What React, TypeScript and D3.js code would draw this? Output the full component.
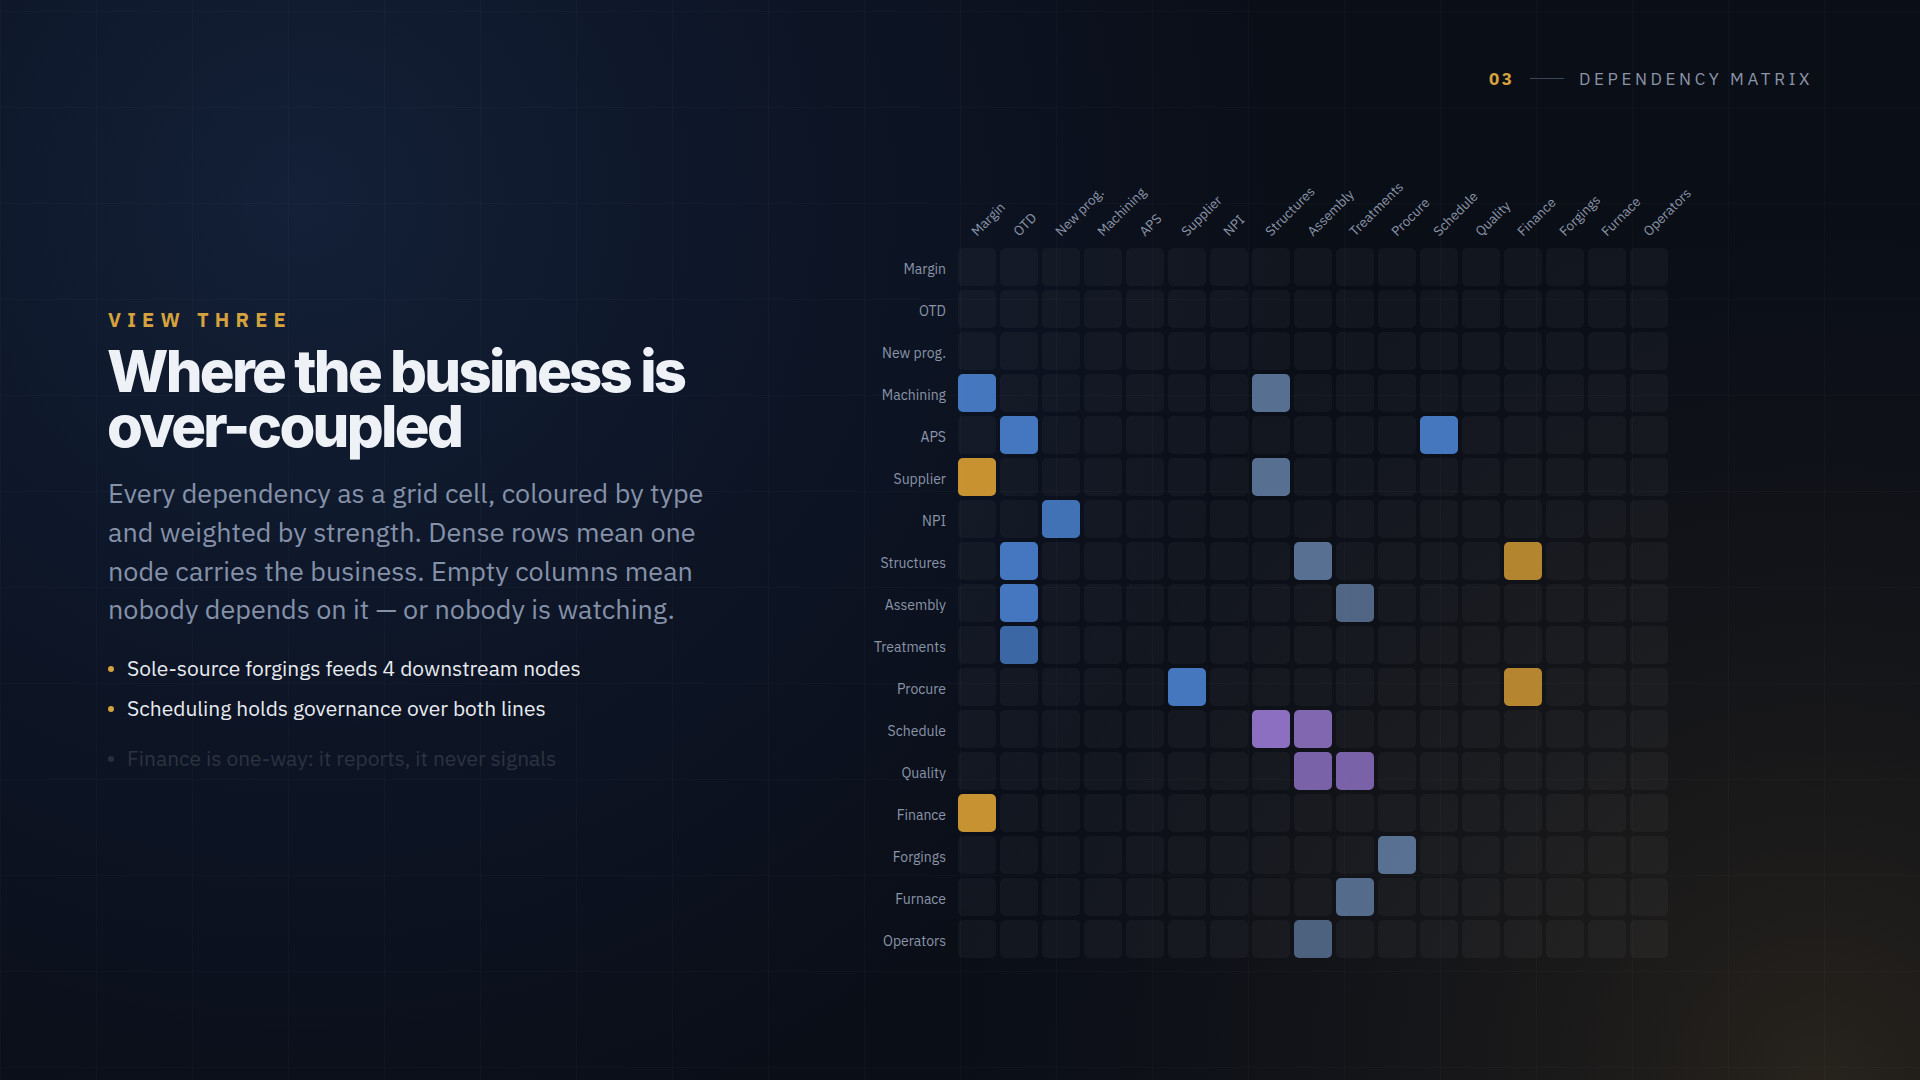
import React from "react";
import * as d3 from "d3";

const nodes = [
  "Margin", "OTD", "New prog.", "Machining", "APS", "Supplier", "NPI",
  "Structures", "Assembly", "Treatments", "Procure", "Schedule", "Quality",
  "Finance", "Forgings", "Furnace", "Operators",
];

// dependency links: source row -> target column
const linkSources = [
  "Machining", "Machining", "APS", "APS", "Supplier", "Supplier", "NPI",
  "Structures", "Structures", "Structures", "Assembly", "Assembly", "Treatments",
  "Procure", "Procure", "Schedule", "Schedule", "Quality", "Quality",
  "Finance", "Forgings", "Furnace", "Operators",
];
const linkTargets = [
  "Margin", "Structures", "OTD", "Schedule", "Margin", "Structures", "New prog.",
  "OTD", "Assembly", "Finance", "OTD", "Treatments", "OTD",
  "Supplier", "Finance", "Structures", "Assembly", "Assembly", "Treatments",
  "Margin", "Procure", "Treatments", "Assembly",
];
const linkTypes = [
  "signal", "material", "signal", "signal", "finance", "material", "signal",
  "signal", "material", "finance", "signal", "material", "signal",
  "signal", "finance", "governance", "governance", "governance", "governance",
  "finance", "material", "material", "material",
];
const linkStrengths = [
  0.9, 0.85, 0.9, 0.9, 0.9, 0.85, 0.85,
  0.9, 0.85, 0.8, 0.9, 0.75, 0.75,
  0.9, 0.8, 0.95, 0.85, 0.8, 0.8,
  0.9, 0.85, 0.8, 0.7,
];

const typeNames = ["signal", "finance", "governance", "material"];
const typeColors = ["#4a82d0", "#dca033", "#9474ca", "#6480a6"];

const bodyLines = [
  "Every dependency as a grid cell, coloured by type",
  "and weighted by strength. Dense rows mean one",
  "node carries the business. Empty columns mean",
  "nobody depends on it \u2014 or nobody is watching.",
];
const bullets = [
  "Sole-source forgings feeds 4 downstream nodes",
  "Scheduling holds governance over both lines",
  "Finance is one-way: it reports, it never signals",
];
const bulletActive = [true, true, false];

const W = 1920;
const H = 1080;
const PLEX = "'IBM Plex Sans', 'Open Sans', 'Noto Sans', sans-serif";

export default function App() {
  const x = d3.scaleBand<string>().domain(nodes).range([958, 1668]).paddingInner(4 / 42).paddingOuter(0);
  const y = d3.scaleBand<string>().domain(nodes).range([248, 958]).paddingInner(4 / 42).paddingOuter(0);
  const color = d3.scaleOrdinal<string, string>().domain(typeNames).range(typeColors);
  const bw = x.bandwidth();

  const links = linkSources.map((s, i) => ({
    s,
    t: linkTargets[i],
    type: linkTypes[i],
    w: linkStrengths[i],
  }));

  const gridXs = d3.range(0, W + 1, 96);
  const gridYs = d3.range(11, H + 1, 96);

  return (
    <div style={{ position: "fixed", left: 0, top: 0, width: W, height: H, overflow: "hidden" }}>
      <svg width={W} height={H} viewBox={`0 0 ${W} ${H}`} style={{ display: "block" }}>
        <defs>
          <radialGradient id="glowTL" cx="300" cy="200" r="1000" gradientUnits="userSpaceOnUse">
            <stop offset="0" stopColor="#132037" stopOpacity="1" />
            <stop offset="0.5" stopColor="#0d1526" stopOpacity="1" />
            <stop offset="1" stopColor="#0a0e17" stopOpacity="1" />
          </radialGradient>
          <radialGradient id="glowBR" cx="1820" cy="1080" r="900" gradientUnits="userSpaceOnUse">
            <stop offset="0" stopColor="#2c261d" stopOpacity="0.85" />
            <stop offset="0.45" stopColor="#221f1b" stopOpacity="0.45" />
            <stop offset="1" stopColor="#16171a" stopOpacity="0" />
          </radialGradient>
        </defs>
        <rect x={0} y={0} width={W} height={H} fill="#0a0e17" />
        <rect x={0} y={0} width={W} height={H} fill="url(#glowTL)" />
        <rect x={0} y={0} width={W} height={H} fill="url(#glowBR)" />
        <g stroke="#ffffff" strokeOpacity={0.022} strokeWidth={1}>
          {gridXs.map((gx) => (
            <line key={"gx" + gx} x1={gx + 0.5} x2={gx + 0.5} y1={0} y2={H} />
          ))}
          {gridYs.map((gy) => (
            <line key={"gy" + gy} x1={0} x2={W} y1={gy + 0.5} y2={gy + 0.5} />
          ))}
        </g>

        {/* header top-right */}
        <text x={1489} y={85} fill="#d6a23e" fontFamily={PLEX} fontWeight={700} fontSize={17} letterSpacing={2.5}>
          03
        </text>
        <line x1={1530} x2={1564} y1={78.5} y2={78.5} stroke="#3a4658" strokeWidth={1} />
        <text x={1579} y={85} fill="#8a95a8" fontFamily={PLEX} fontWeight={400} fontSize={17} letterSpacing={3.6}>
          DEPENDENCY MATRIX
        </text>

        {/* left text */}
        <text x={108} y={327} fill="#d6a23e" fontFamily={PLEX} fontWeight={700} fontSize={20} letterSpacing={6.2}>
          VIEW THREE
        </text>
        <text fill="#eef1f6" fontFamily="Inter, 'Noto Sans', sans-serif" fontWeight={800} fontSize={58} letterSpacing={-2.7}>
          <tspan x={107} y={392}>Where the business is</tspan>
          <tspan x={107} y={447}>over-coupled</tspan>
        </text>
        <g fill="#8591a8" fontFamily={PLEX} fontWeight={400} fontSize={27}>
          {bodyLines.map((l, i) => (
            <text key={i} x={108} y={503 + i * 38.8}>
              {l}
            </text>
          ))}
        </g>
        <g fontFamily={PLEX} fontWeight={400} fontSize={21}>
          {bullets.map((b, i) => {
            const by = [676, 716, 766][i];
            return (
              <g key={i}>
                <circle cx={111} cy={by - 7} r={3} fill={bulletActive[i] ? "#d6a23e" : "#2a303b"} />
                <text x={127} y={by} fill={bulletActive[i] ? "#e8ebf0" : "#2c3340"}>
                  {b}
                </text>
              </g>
            );
          })}
        </g>

        {/* matrix */}
        <g>
          {nodes.map((r) =>
            nodes.map((c) => (
              <rect
                key={r + "|" + c}
                x={x(c)}
                y={y(r)}
                width={bw}
                height={y.bandwidth()}
                rx={5}
                fill="#ffffff"
                fillOpacity={0.035}
              />
            ))
          )}
          {links.map((l, i) => (
            <rect
              key={"l" + i}
              x={x(l.t)}
              y={y(l.s)}
              width={bw}
              height={y.bandwidth()}
              rx={5}
              fill={color(l.type)}
              fillOpacity={l.w}
            />
          ))}
        </g>
        <g fontFamily={PLEX} fontSize={14} fill="#8b95a9">
          {nodes.map((r) => (
            <text key={"rl" + r} x={946} y={(y(r) as number) + y.bandwidth() / 2 + 2} dy="0.35em" textAnchor="end">
              {r}
            </text>
          ))}
          {nodes.map((c) => {
            const cx = (x(c) as number) + bw / 2;
            const cy = 237;
            return (
              <text key={"cl" + c} x={cx} y={cy} transform={`rotate(-45 ${cx} ${cy})`} fontSize={13.5}>
                {c}
              </text>
            );
          })}
        </g>
      </svg>
    </div>
  );
}
